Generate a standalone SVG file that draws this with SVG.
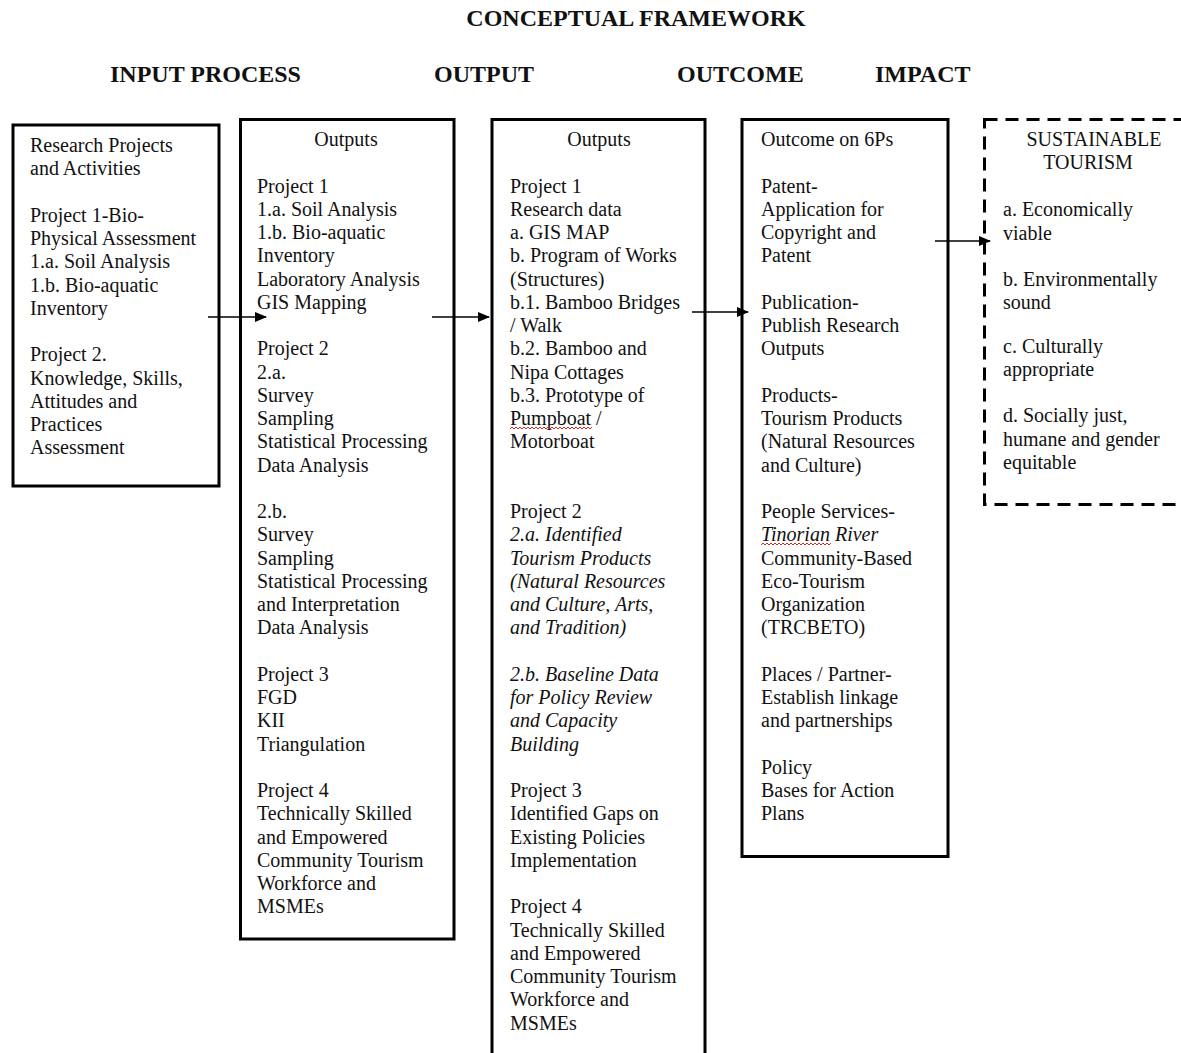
<svg xmlns="http://www.w3.org/2000/svg" width="1181" height="1053" viewBox="0 0 1181 1053">
<style>
.t{font-family:"Liberation Serif","Times New Roman",serif;font-size:20px;fill:#111;}
.i{font-style:italic;}
.h{font-family:"Liberation Serif","Times New Roman",serif;font-size:24px;font-weight:bold;fill:#111;}
.box{fill:#fff;stroke:#000;stroke-width:3;}
.dash{fill:none;stroke:#000;stroke-width:3;stroke-dasharray:13,8;}
.arr{stroke:#000;stroke-width:1.6;fill:none;marker-end:url(#ah);}
.wav{fill:none;stroke:#d22;stroke-width:1;}
</style>
<defs>
<marker id="ah" markerWidth="12" markerHeight="10" refX="11" refY="5" orient="auto" markerUnits="userSpaceOnUse">
<path d="M0,0 L12,5 L0,10 Z" fill="#000"/>
</marker>
</defs>
<rect width="1181" height="1053" fill="#fff"/>
<g id="headings">
<text class="h" x="636" y="26" text-anchor="middle">CONCEPTUAL FRAMEWORK</text>
<text class="h" x="110" y="82">INPUT PROCESS</text>
<text class="h" x="434" y="82">OUTPUT</text>
<text class="h" x="677" y="82">OUTCOME</text>
<text class="h" x="875" y="82">IMPACT</text>
</g>
<g id="input">
<rect class="box" x="13" y="125" width="206" height="361"/>
<text class="t">
<tspan x="30" y="152">Research Projects</tspan>
<tspan x="30" y="175.25">and Activities</tspan>
<tspan x="30" y="221.75">Project 1-Bio-</tspan>
<tspan x="30" y="245">Physical Assessment</tspan>
<tspan x="30" y="268.25">1.a. Soil Analysis</tspan>
<tspan x="30" y="291.5">1.b. Bio-aquatic</tspan>
<tspan x="30" y="314.75">Inventory</tspan>
<tspan x="30" y="361.25">Project 2.</tspan>
<tspan x="30" y="384.5">Knowledge, Skills,</tspan>
<tspan x="30" y="407.75">Attitudes and</tspan>
<tspan x="30" y="431">Practices</tspan>
<tspan x="30" y="454.25">Assessment</tspan>
</text>
</g>
<g id="process">
<rect class="box" x="240.5" y="119.5" width="213.5" height="819.5"/>
<text class="t" x="346" y="146" text-anchor="middle">Outputs</text>
<text class="t">
<tspan x="257" y="192.5">Project 1</tspan>
<tspan x="257" y="215.75">1.a. Soil Analysis</tspan>
<tspan x="257" y="239">1.b. Bio-aquatic</tspan>
<tspan x="257" y="262.25">Inventory</tspan>
<tspan x="257" y="285.5">Laboratory Analysis</tspan>
<tspan x="257" y="308.75">GIS Mapping</tspan>
<tspan x="257" y="355.25">Project 2</tspan>
<tspan x="257" y="378.5">2.a.</tspan>
<tspan x="257" y="401.75">Survey</tspan>
<tspan x="257" y="425">Sampling</tspan>
<tspan x="257" y="448.25">Statistical Processing</tspan>
<tspan x="257" y="471.5">Data Analysis</tspan>
<tspan x="257" y="518">2.b.</tspan>
<tspan x="257" y="541.25">Survey</tspan>
<tspan x="257" y="564.5">Sampling</tspan>
<tspan x="257" y="587.75">Statistical Processing</tspan>
<tspan x="257" y="611">and Interpretation</tspan>
<tspan x="257" y="634.25">Data Analysis</tspan>
<tspan x="257" y="680.75">Project 3</tspan>
<tspan x="257" y="704">FGD</tspan>
<tspan x="257" y="727.25">KII</tspan>
<tspan x="257" y="750.5">Triangulation</tspan>
<tspan x="257" y="797">Project 4</tspan>
<tspan x="257" y="820.25">Technically Skilled</tspan>
<tspan x="257" y="843.5">and Empowered</tspan>
<tspan x="257" y="866.75">Community Tourism</tspan>
<tspan x="257" y="890">Workforce and</tspan>
<tspan x="257" y="913.25">MSMEs</tspan>
</text>
</g>
<g id="output">
<rect class="box" x="492" y="119.5" width="213" height="1000"/>
<text class="t" x="599" y="146" text-anchor="middle">Outputs</text>
<text class="t">
<tspan x="510" y="192.5">Project 1</tspan>
<tspan x="510" y="215.75">Research data</tspan>
<tspan x="510" y="239">a. GIS MAP</tspan>
<tspan x="510" y="262.25">b. Program of Works</tspan>
<tspan x="510" y="285.5">(Structures)</tspan>
<tspan x="510" y="308.75">b.1. Bamboo Bridges</tspan>
<tspan x="510" y="332">/ Walk</tspan>
<tspan x="510" y="355.25">b.2. Bamboo and</tspan>
<tspan x="510" y="378.5">Nipa Cottages</tspan>
<tspan x="510" y="401.75">b.3. Prototype of</tspan>
<tspan x="510" y="425">Pumpboat /</tspan>
<tspan x="510" y="448.25">Motorboat</tspan>
<tspan x="510" y="518">Project 2</tspan>
</text>
<text class="t i">
<tspan x="510" y="541.25">2.a. Identified</tspan>
<tspan x="510" y="564.5">Tourism Products</tspan>
<tspan x="510" y="587.75">(Natural Resources</tspan>
<tspan x="510" y="611">and Culture, Arts,</tspan>
<tspan x="510" y="634.25">and Tradition)</tspan>
<tspan x="510" y="680.75">2.b. Baseline Data</tspan>
<tspan x="510" y="704">for Policy Review</tspan>
<tspan x="510" y="727.25">and Capacity</tspan>
<tspan x="510" y="750.5">Building</tspan>
</text>
<text class="t">
<tspan x="510" y="797">Project 3</tspan>
<tspan x="510" y="820.25">Identified Gaps on</tspan>
<tspan x="510" y="843.5">Existing Policies</tspan>
<tspan x="510" y="866.75">Implementation</tspan>
<tspan x="510" y="913.25">Project 4</tspan>
<tspan x="510" y="936.5">Technically Skilled</tspan>
<tspan x="510" y="959.75">and Empowered</tspan>
<tspan x="510" y="983">Community Tourism</tspan>
<tspan x="510" y="1006.25">Workforce and</tspan>
<tspan x="510" y="1029.5">MSMEs</tspan>
</text>
<polyline class="wav" points="510,429 512,427 514,429 516,427 518,429 520,427 522,429 524,427 526,429 528,427 530,429 532,427 534,429 536,427 538,429 540,427 542,429 544,427 546,429 548,427 550,429 552,427 554,429 556,427 558,429 560,427 562,429 564,427 566,429 568,427 570,429 572,427 574,429 576,427 578,429 580,427 582,429 584,427 586,429 588,427 590,429 592,427"/>
</g>
<g id="outcome">
<rect class="box" x="742" y="119.5" width="206" height="737"/>
<text class="t">
<tspan x="761" y="146">Outcome on 6Ps</tspan>
<tspan x="761" y="192.5">Patent-</tspan>
<tspan x="761" y="215.75">Application for</tspan>
<tspan x="761" y="239">Copyright and</tspan>
<tspan x="761" y="262.25">Patent</tspan>
<tspan x="761" y="308.75">Publication-</tspan>
<tspan x="761" y="332">Publish Research</tspan>
<tspan x="761" y="355.25">Outputs</tspan>
<tspan x="761" y="401.75">Products-</tspan>
<tspan x="761" y="425">Tourism Products</tspan>
<tspan x="761" y="448.25">(Natural Resources</tspan>
<tspan x="761" y="471.5">and Culture)</tspan>
<tspan x="761" y="518">People Services-</tspan>
<tspan x="761" y="541.25" font-style="italic">Tinorian River</tspan>
<tspan x="761" y="564.5">Community-Based</tspan>
<tspan x="761" y="587.75">Eco-Tourism</tspan>
<tspan x="761" y="611">Organization</tspan>
<tspan x="761" y="634.25">(TRCBETO)</tspan>
<tspan x="761" y="680.75">Places / Partner-</tspan>
<tspan x="761" y="704">Establish linkage</tspan>
<tspan x="761" y="727.25">and partnerships</tspan>
<tspan x="761" y="773.75">Policy</tspan>
<tspan x="761" y="797">Bases for Action</tspan>
<tspan x="761" y="820.25">Plans</tspan>
</text>
<polyline class="wav" points="761,545 763,543 765,545 767,543 769,545 771,543 773,545 775,543 777,545 779,543 781,545 783,543 785,545 787,543 789,545 791,543 793,545 795,543 797,545 799,543 801,545 803,543 805,545 807,543 809,545 811,543 813,545 815,543 817,545 819,543 821,545 823,543 825,545 827,543 829,545 831,543"/>
</g>
<g id="impact">
<rect class="dash" x="984.5" y="119.5" width="260" height="385"/>
<text class="t" x="1094" y="146" text-anchor="middle">SUSTAINABLE</text>
<text class="t" x="1088" y="169.25" text-anchor="middle">TOURISM</text>
<text class="t">
<tspan x="1003" y="216">a. Economically</tspan>
<tspan x="1003" y="240">viable</tspan>
<tspan x="1003" y="286">b. Environmentally</tspan>
<tspan x="1003" y="309">sound</tspan>
<tspan x="1003" y="353">c. Culturally</tspan>
<tspan x="1003" y="376">appropriate</tspan>
<tspan x="1003" y="422">d. Socially just,</tspan>
<tspan x="1003" y="446">humane and gender</tspan>
<tspan x="1003" y="469">equitable</tspan>
</text>
</g>
<g id="connectors">
<line class="arr" x1="208" y1="317" x2="266" y2="317"/>
<line class="arr" x1="432" y1="317" x2="489" y2="317"/>
<line class="arr" x1="692" y1="312" x2="748" y2="312"/>
<line class="arr" x1="935" y1="241" x2="990" y2="241"/>
</g>
</svg>
